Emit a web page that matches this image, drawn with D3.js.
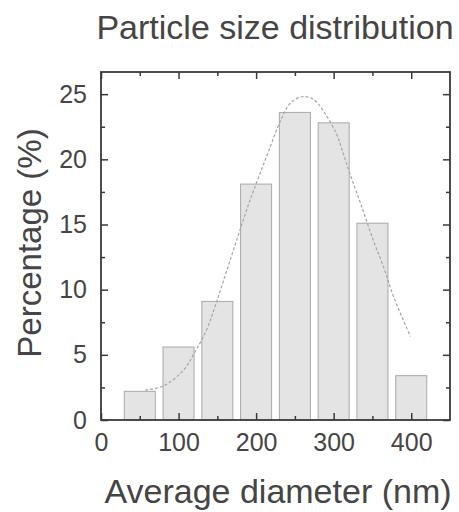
<!DOCTYPE html>
<html><head><meta charset="utf-8">
<script src="https://cdn.jsdelivr.net/npm/d3@7"></script>
<style>
html,body{margin:0;padding:0;background:#fff;}
svg{display:block;font-family:"Liberation Sans",Arial,sans-serif;}
</style></head>
<body>
<svg id="chart" width="459" height="512"></svg>
<script>
// Data
const binCenters = [50, 100, 150, 200, 250, 300, 350, 400];
const percentages = [2.2, 5.6, 9.1, 18.1, 23.6, 22.8, 15.1, 3.4];
const binWidth = 40;
const fitX = [57, 80, 106, 121, 136, 147, 158, 190, 203, 216, 231, 244, 259, 274, 289, 304, 311, 321, 336, 351, 364, 377, 399];
const fitY = [2.3, 2.6, 3.8, 5.2, 6.9, 8.7, 10.7, 16.5, 18.6, 20.6, 22.9, 24.3, 24.8, 24.6, 23.5, 21.9, 20.7, 18.9, 16.4, 13.8, 11.8, 9.5, 6.4];
const xTicks = [0, 100, 200, 300, 400];
const xMinor = [50, 150, 250, 350];
const yTicks = [0, 5, 10, 15, 20, 25];
const yMinor = [2.5, 7.5, 12.5, 17.5, 22.5];
const titleText = "Particle size distribution";
const xLabel = "Average diameter (nm)";
const yLabel = "Percentage (%)";

const svg = d3.select("#chart");
const L = 101, R = 450, T = 72, B = 420;
const x = d3.scaleLinear().domain([0, 450]).range([L, R]);
const y = d3.scaleLinear().domain([0, 26.7]).range([B, T]);
const textCol = "#454545";
const axCol = "#3a3a3a";

// bars
svg.append("g").selectAll("rect").data(binCenters).join("rect")
  .attr("x", (d) => x(d - binWidth/2))
  .attr("width", (d) => x(d + binWidth/2) - x(d - binWidth/2))
  .attr("y", (d, i) => y(percentages[i]))
  .attr("height", (d, i) => y(0) - y(percentages[i]))
  .attr("fill", "#e4e4e4")
  .attr("stroke", "#a8a8a8")
  .attr("stroke-width", 1);

// fit curve
const line = d3.line().x((d) => x(d[0])).y((d) => y(d[1])).curve(d3.curveCatmullRom);
svg.append("path")
  .attr("d", line(fitX.map((v, i) => [v, fitY[i]])))
  .attr("fill", "none")
  .attr("stroke", "#a5a5a5")
  .attr("stroke-width", 1.2)
  .attr("stroke-dasharray", "3,2");

// axes (ticks inward)
const gL = svg.append("g").attr("transform", `translate(${L},0)`)
  .call(d3.axisLeft(y).tickValues(yTicks).tickSize(-7).tickPadding(14).tickFormat(d3.format("d")));
const gLm = svg.append("g").attr("transform", `translate(${L},0)`)
  .call(d3.axisLeft(y).tickValues(yMinor).tickSize(-4).tickFormat(""));
const gR = svg.append("g").attr("transform", `translate(${R},0)`)
  .call(d3.axisRight(y).tickValues(yTicks).tickSize(-7).tickFormat(""));
const gRm = svg.append("g").attr("transform", `translate(${R},0)`)
  .call(d3.axisRight(y).tickValues(yMinor).tickSize(-4).tickFormat(""));
const gB = svg.append("g").attr("transform", `translate(0,${B})`)
  .call(d3.axisBottom(x).tickValues(xTicks).tickSize(-7).tickPadding(13).tickFormat(d3.format("d")));
const gBm = svg.append("g").attr("transform", `translate(0,${B})`)
  .call(d3.axisBottom(x).tickValues(xMinor).tickSize(-4).tickFormat(""));
const gT = svg.append("g").attr("transform", `translate(0,${T})`)
  .call(d3.axisTop(x).tickValues(xTicks).tickSize(-7).tickFormat(""));
const gTm = svg.append("g").attr("transform", `translate(0,${T})`)
  .call(d3.axisTop(x).tickValues(xMinor).tickSize(-4).tickFormat(""));
[gL, gLm, gR, gRm, gB, gBm, gT, gTm].forEach((g) => {
  g.select(".domain").remove();
  g.selectAll("line").attr("stroke", axCol).attr("stroke-width", 1.5);
  g.selectAll("text").attr("fill", textCol).style("font-size", "25px").style("font-family", "'Liberation Sans',Arial,sans-serif");
});

// frame
svg.append("rect").attr("x", L).attr("y", T).attr("width", R - L).attr("height", B - T)
  .attr("fill", "none").attr("stroke", axCol).attr("stroke-width", 1.8);

// labels
svg.append("text").attr("x", 275).attr("y", 39).attr("text-anchor", "middle")
  .attr("fill", textCol).style("font-size", "34px").text(titleText);
svg.append("text").attr("x", 278).attr("y", 503).attr("text-anchor", "middle")
  .attr("fill", textCol).style("font-size", "34px").text(xLabel);
svg.append("text").attr("transform", "translate(41,243) rotate(-90)").attr("text-anchor", "middle")
  .attr("fill", textCol).style("font-size", "33px").text(yLabel);
</script>
</body></html>
